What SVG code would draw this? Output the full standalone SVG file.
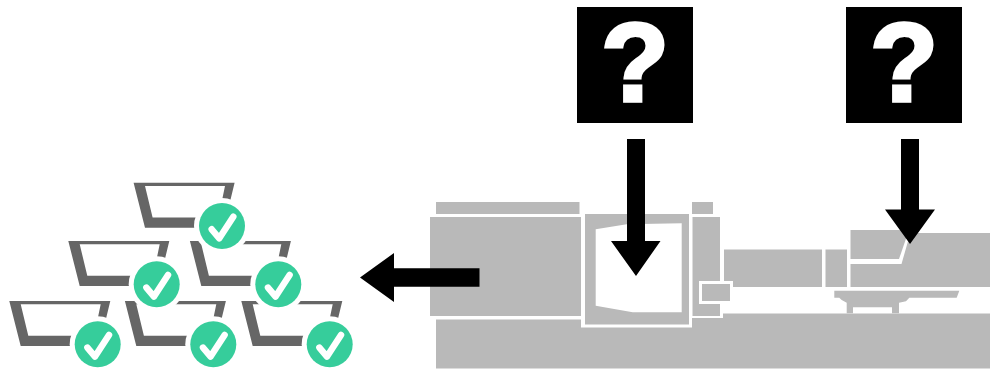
<svg xmlns="http://www.w3.org/2000/svg" width="990" height="372" viewBox="0 0 990 372">
<style>
.m{fill:#b9b9b9}
.w{fill:#fff}
.a{fill:#000}
.t{fill:#666}
.h{fill:#fff}
.c{fill:#36cd9b}
.k{fill:none;stroke:#fff;stroke-width:6.500;stroke-linecap:round;stroke-linejoin:round}
.q{font-family:"Liberation Sans",Arial,sans-serif;font-weight:700;font-size:111.500px;fill:#fff;stroke:#fff;stroke-width:3.500;stroke-linejoin:miter;text-anchor:middle}
</style>
<defs>
<g id="tray">
<path class="t" d="M-88.400-43.300H12.600L6-16H-2L3-40H-77L-69.400-8.600H-10V1.700H-77Z"/>
<circle class="h" r="28"/>
<circle class="c" r="23"/>
<path class="k" d="M-10.300 3.300L-2.700 12.300L11.300-9.300"/>
</g>
</defs>
<g id="machine">
<rect class="m" x="436" y="202" width="143.500" height="12"/>
<rect class="m" x="430" y="217" width="151" height="99"/>
<path class="m" d="M436 319.500H581V327.500H692V318H723V313.500H990V368.500H436Z"/>
<path class="m" fill-rule="evenodd" d="M585 214H689V324.500H585ZM595.700 229.300L626.700 224.300L681.700 223.300V312.300H632.700L595.700 305.700Z"/>
<rect class="m" x="692" y="202" width="21" height="12"/>
<rect class="m" x="692.500" y="217" width="27.500" height="99"/>
<rect class="m" x="724" y="249.500" width="98" height="37.500"/>
<rect class="m" x="825.500" y="249.500" width="21.500" height="37.500"/>
<path class="m" d="M850.500 230H909L899 259H850.500Z"/>
<path class="m" d="M850.500 264H901.500L909.500 236L912 233H990V287H850.500Z"/>
<path class="m" d="M834.300 290.700H959.300L956.700 297.700H909.300L906 301.300L899 302.700V313.300H892V307.300H853V313.300H846.700V302.700L841.700 300L839.300 297.700H834.300Z"/>
<rect class="w" x="699" y="281" width="34" height="23"/>
<rect class="m" x="702" y="284" width="28" height="17"/>
</g>
<g id="trays">
<use href="#tray" x="97.700" y="344.300"/>
<use href="#tray" x="213.300" y="344.300"/>
<use href="#tray" x="329.700" y="344.300"/>
<use href="#tray" x="156.700" y="284.300"/>
<use href="#tray" x="278.300" y="284.300"/>
<use href="#tray" x="222" y="226"/>
</g>
<g id="question-1">
<rect class="a" x="577" y="7" width="116" height="116"/>
<text class="q" x="635" y="101.400">?</text>
</g>
<g id="question-2">
<rect class="a" x="846" y="7" width="116" height="116"/>
<text class="q" x="904" y="101.400">?</text>
</g>
<g id="connectors">
<path class="a" d="M627 139H645V241H660.500L636 276L611 241H627Z"/>
<path class="a" d="M901 139H919V209.500H935L910 244L885 209.500H901Z"/>
<path class="a" d="M479.500 268.300V286.700H394V302L360 277.500L394 253V268.300Z"/>
</g>
</svg>
